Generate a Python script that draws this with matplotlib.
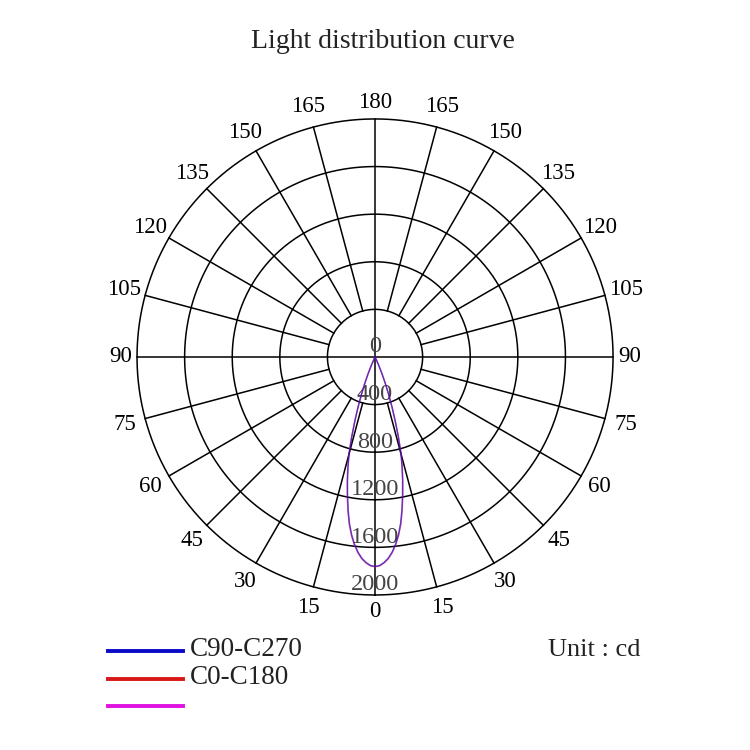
import numpy as np
import matplotlib
matplotlib.use("Agg")
import matplotlib.pyplot as plt
from matplotlib.lines import Line2D

plt.rcParams['font.family'] = ['Liberation Serif', 'DejaVu Serif']

# Datos (gamma en grados, intensidad en cd)
gamma = [0, 1.25, 2.5, 3.75, 5, 6.25, 7.5, 8.75, 10, 11.25, 12.5, 13.75,
         15, 16.25, 17.5, 18.75, 20, 21.25, 22.5, 23.75, 25, 26.25]
c90_c270 = [1760, 1752, 1728, 1694, 1645, 1582, 1505, 1412, 1300, 1182, 1068, 955,
            840, 700, 560, 440, 328, 235, 150, 80, 25, 0]
c0_c180 = [1763, 1756, 1733, 1700, 1652, 1590, 1515, 1424, 1314, 1195, 1080, 966,
           850, 708, 566, 446, 332, 238, 152, 82, 26, 0]

radial_ticks = [0, 400, 800, 1200, 1600, 2000]
angle_ticks = list(range(0, 360, 15))
angle_labels = [str(a if a <= 180 else 360 - a) for a in angle_ticks]

legend_names = ['C90-C270', 'C0-C180', '']
legend_colors = ['#0a0ac8', '#d81818', '#e010e0']

fig = plt.figure(figsize=(7.5, 7.5), dpi=100)
ax = fig.add_axes([0.1827, 0.2067, 0.6347, 0.6347], projection='polar')
ax.set_theta_zero_location('S')
ax.set_ylim(0, 2000)
ax.grid(False)
ax.set_xticks([])
ax.set_yticks([])
ax.spines['polar'].set_visible(False)

# circulos
t = np.linspace(0, 2 * np.pi, 400)
for r in radial_ticks[1:]:
    ax.plot(t, np.full_like(t, r), color='black', lw=1.1, zorder=1, clip_on=False)

# lineas radiales
for a in angle_ticks:
    r0 = 0 if a % 90 == 0 else 400
    ax.plot([np.radians(a)] * 2, [r0, 2000], color='black', lw=1.1, zorder=1,
            clip_on=False)

# etiquetas de angulo
for a, lbl in zip(angle_ticks, angle_labels):
    rr = 2140 if a % 90 == 0 else 2180
    ax.text(np.radians(a), rr, lbl, ha='center', va='center', fontsize=16.5,
            color='black', clip_on=False)

# etiquetas radiales
for r in radial_ticks:
    ax.annotate(str(r), (0, r), xytext=(0, 10), textcoords='offset pixels',
                ha='center', va='center', fontsize=17.5, color='#444444', zorder=3)

# curvas
g = np.array(gamma)
th = np.radians(np.concatenate([-g[::-1], g[1:]]))
v90 = np.concatenate([c90_c270[::-1], c90_c270[1:]])
v0 = np.concatenate([c0_c180[::-1], c0_c180[1:]])
ax.plot(th, v0, color=legend_colors[1], lw=1.0, alpha=0.55, zorder=4)
ax.plot(th, v0, color=legend_colors[2], lw=1.0, alpha=0.35, zorder=4)
ax.plot(th, v90, color=legend_colors[0], lw=1.0, alpha=0.6, zorder=5)

fig.text(0.511, 1 - 41 / 750, 'Light distribution curve', ha='center', va='center',
         fontsize=20, color='#222222')

# leyenda
for i, (name, col) in enumerate(zip(legend_names, legend_colors)):
    y = 1 - (651 + i * 27.5) / 750
    fig.add_artist(Line2D([108 / 750, 183 / 750], [y, y], color=col, lw=2.8,
                          transform=fig.transFigure))
    fig.text(190 / 750, y + 0.002, name, ha='left', va='center', fontsize=19.5,
             color='#222222')

fig.text(641 / 750, 1 - 650 / 750, 'Unit : cd', ha='right', va='center',
         fontsize=19, color='#222222')

fig.savefig('out.png', dpi=100, facecolor='white')
